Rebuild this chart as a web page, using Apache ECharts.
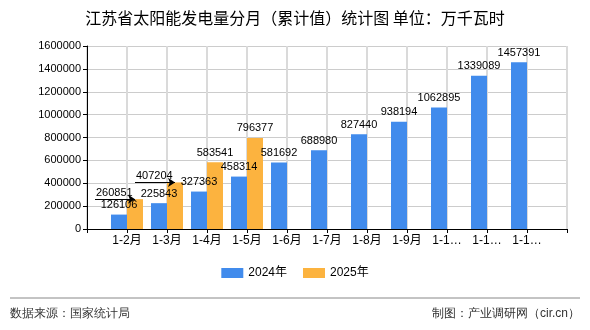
<!DOCTYPE html>
<html>
<head>
<meta charset="utf-8">
<script src="https://cdn.jsdelivr.net/npm/echarts@6/dist/echarts.min.js"></script>
<style>html,body{margin:0;padding:0;background:#fff}#c{width:590px;height:330px}</style>
</head>
<body>
<div id="c"></div>
<script>
const titleText = '江苏省太阳能发电量分月（累计值）统计图 单位：万千瓦时';
const categories = ['', '1-2月', '1-3月', '1-4月', '1-5月', '1-6月', '1-7月', '1-8月', '1-9月', '1-10月', '1-11月', '1-12月', ''];
const seriesNames = ['2024年', '2025年'];
const values2024 = [null, 126106, 225843, 327363, 458314, 581692, 688980, 827440, 938194, 1062895, 1339089, 1457391, null];
const values2025 = [null, 260851, 407204, 583541, 796377, null, null, null, null, null, null, null, null];
const arrowLabelIdx = [1, 2];
const yTicks = [0, 200000, 400000, 600000, 800000, 1000000, 1200000, 1400000, 1600000];
const sourceText = '数据来源：国家统计局';
const makerText = '制图：产业调研网（cir.cn）';

const colors = ['#418bec', '#fcb33f'];
const gridColor = '#cccccc';
const vGridColor = '#dadada';
const font = '"Liberation Sans", "Noto Sans CJK SC", sans-serif';

const data2025 = values2025.map((v, i) => arrowLabelIdx.includes(i) ? { value: v, label: { show: false } } : v);
const markData = arrowLabelIdx.map(i => [
  { coord: [i - 1, values2025[i]], label: { formatter: String(values2025[i]) } },
  { coord: [i, values2025[i]] }
]);

const chart = echarts.init(document.getElementById('c'));
chart.setOption({
  animation: false,
  color: colors,
  title: {
    text: titleText, left: 'center', top: 5,
    textStyle: { fontSize: 16, fontWeight: 'normal', color: '#000', fontFamily: '"Noto Sans CJK SC", sans-serif' }
  },
  legend: {
    data: seriesNames, bottom: 46, left: 'center', icon: 'rect',
    itemWidth: 22, itemHeight: 10, itemGap: 16,
    textStyle: { fontSize: 12, color: '#000', fontFamily: font }
  },
  grid: { left: 87, right: 23, top: 46, bottom: 101, containLabel: false },
  xAxis: [
    {
      type: 'category', data: categories, boundaryGap: false, z: 0,
      axisLine: { lineStyle: { color: '#000' } },
      axisTick: { show: true, interval: 0, length: 4, lineStyle: { color: '#000' } },
      axisLabel: { interval: 0, fontSize: 12, color: '#000', fontFamily: font, margin: 6, width: 34, overflow: 'truncate', ellipsis: '…' },
      splitLine: { show: true, interval: 0, lineStyle: { color: vGridColor, width: 2 } }
    },
    {
      type: 'value', position: 'bottom', min: 0, max: categories.length - 1, interval: 1, z: 0,
      axisLine: { show: false }, axisTick: { show: false }, axisLabel: { show: false },
      splitLine: { show: true, lineStyle: { color: vGridColor, width: 2 } }
    }
  ],
  yAxis: {
    type: 'value', min: yTicks[0], max: yTicks[yTicks.length - 1], interval: yTicks[1] - yTicks[0],
    axisLine: { show: true, lineStyle: { color: '#000' } },
    axisTick: { show: true, length: 4, lineStyle: { color: '#000' } },
    axisLabel: { fontSize: 11, color: '#000', fontFamily: font, margin: 6, formatter: v => String(v) },
    splitLine: { show: true, lineStyle: { color: gridColor } }
  },
  series: [
    {
      name: seriesNames[0], type: 'bar', data: values2024, barWidth: 16, barGap: '0%', z: 3,
      label: { show: true, position: 'top', distance: 4, color: '#000', fontSize: 11, fontFamily: font }
    },
    {
      name: seriesNames[1], type: 'bar', data: data2025, barWidth: 16, barGap: '0%', z: 3,
      label: { show: true, position: 'top', distance: 4, color: '#000', fontSize: 11, fontFamily: font },
      markLine: {
        silent: true, symbol: ['none', 'arrow'], symbolSize: 7,
        lineStyle: { color: '#000', width: 1, type: 'solid' },
        label: { show: true, position: 'insideStartTop', distance: 1, color: '#000', fontSize: 11, fontFamily: font },
        data: markData
      }
    }
  ],
  graphic: [
    { type: 'line', shape: { x1: 10, y1: 298, x2: 580, y2: 298 }, style: { stroke: '#888', lineWidth: 1 } },
    { type: 'text', left: 10, top: 308, style: { text: sourceText, fontSize: 12, fill: '#333', font: '12px "Noto Sans CJK SC", sans-serif' } },
    { type: 'text', right: 10, top: 308, style: { text: makerText, fontSize: 12, fill: '#333', font: '12px "Noto Sans CJK SC", sans-serif' } }
  ]
});
</script>
</body>
</html>
